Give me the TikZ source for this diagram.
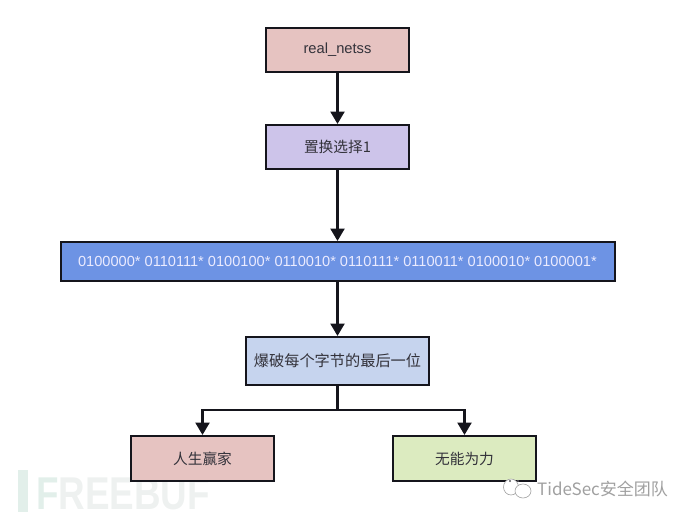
\documentclass[tikz,border=0pt]{standalone}
\usepackage{fontspec}
\setmainfont{Liberation Sans}
\newfontfamily\cjk{Noto Sans CJK SC}
\usetikzlibrary{arrows.meta,positioning}
\definecolor{boxred}{HTML}{E6C3C1}
\definecolor{boxpurple}{HTML}{CDC4EA}
\definecolor{boxblue}{HTML}{6D93E4}
\definecolor{boxpale}{HTML}{C6D4EE}
\definecolor{boxgreen}{HTML}{DCEBC0}
\definecolor{edgecol}{HTML}{15151C}
\definecolor{txtcol}{HTML}{33323A}
\definecolor{wmcol}{HTML}{E2EFEA}
\definecolor{wmgray}{HTML}{EEF1F0}
\definecolor{wmtext}{HTML}{A0A0A0}
\tikzset{
  flowbox/.style={draw=edgecol,line width=2pt,inner sep=0pt,text=txtcol,font=\fontsize{14.7}{16}\selectfont\cjk},
  flowarrow/.style={draw=edgecol,line width=2.4pt,-{Triangle[length=12.5pt,width=14pt]}},
  flowline/.style={draw=edgecol,line width=2.4pt},
  chatbubble/.style={draw=wmtext,line width=0.6pt,fill=white},
}
\begin{document}
\begin{tikzpicture}[x=1pt,y=-1pt]
\useasboundingbox (0,0) rectangle (690,519);
% watermark
\fill[wmcol] (18,470) rectangle (28,512);
\node[name=wmfreebuf,anchor=west,inner sep=0pt,xscale=0.8,transform shape,font=\fontsize{46}{48}\selectfont\bfseries,text=wmgray] at (36,494) {\textcolor{wmcol}{F}REEBUF};
% boxes
\node[flowbox,fill=boxred,minimum width=143pt,minimum height=44pt] (a) at (337.5,50) {\fontspec{Liberation Sans}real\_netss};
\node[flowbox,fill=boxpurple,minimum width=143pt,minimum height=44pt] (b) at (337.5,147) {置换选择1};
\node[flowbox,fill=boxblue,minimum width=554pt,minimum height=39pt,text=white!92!blue,font=\fontsize{14.6}{16}\selectfont] (c) at (337.5,261.5) {0100000* 0110111* 0100100* 0110010* 0110111* 0110011* 0100010* 0100001*};
\node[flowbox,fill=boxpale,minimum width=183pt,minimum height=48pt,font=\fontsize{15.2}{17}\selectfont\cjk] (d) at (337.5,361) {爆破每个字节的最后一位};
\node[flowbox,fill=boxred,minimum width=143pt,minimum height=45pt] (e) at (202.5,458.5) {人生赢家};
\node[flowbox,fill=boxgreen,minimum width=143pt,minimum height=45pt] (f) at (464.5,458.5) {无能为力};
% connectors
\draw[flowarrow] (a) -- (b);
\draw[flowarrow] (b) -- (c);
\draw[flowarrow] (c) -- (d);
\coordinate (j) at (337.5,410);
\draw[flowline] (d) -- (j);
\draw[flowarrow] (j) -| (e);
\draw[flowarrow] (j) -| (f);
% logo watermark
\draw[chatbubble] (511,487) ellipse [x radius=7.5pt,y radius=8pt];
\draw[chatbubble] (523,491) ellipse [x radius=8pt,y radius=7pt];
\fill[edgecol!70] (510,481) circle [radius=1.2pt] (518,481) circle [radius=1.2pt];
\node[name=wmtide,anchor=west,inner sep=0pt,text=wmtext,font=\fontsize{17}{19}\selectfont\cjk] at (537,489) {TideSec安全团队};
\end{tikzpicture}
\end{document}
